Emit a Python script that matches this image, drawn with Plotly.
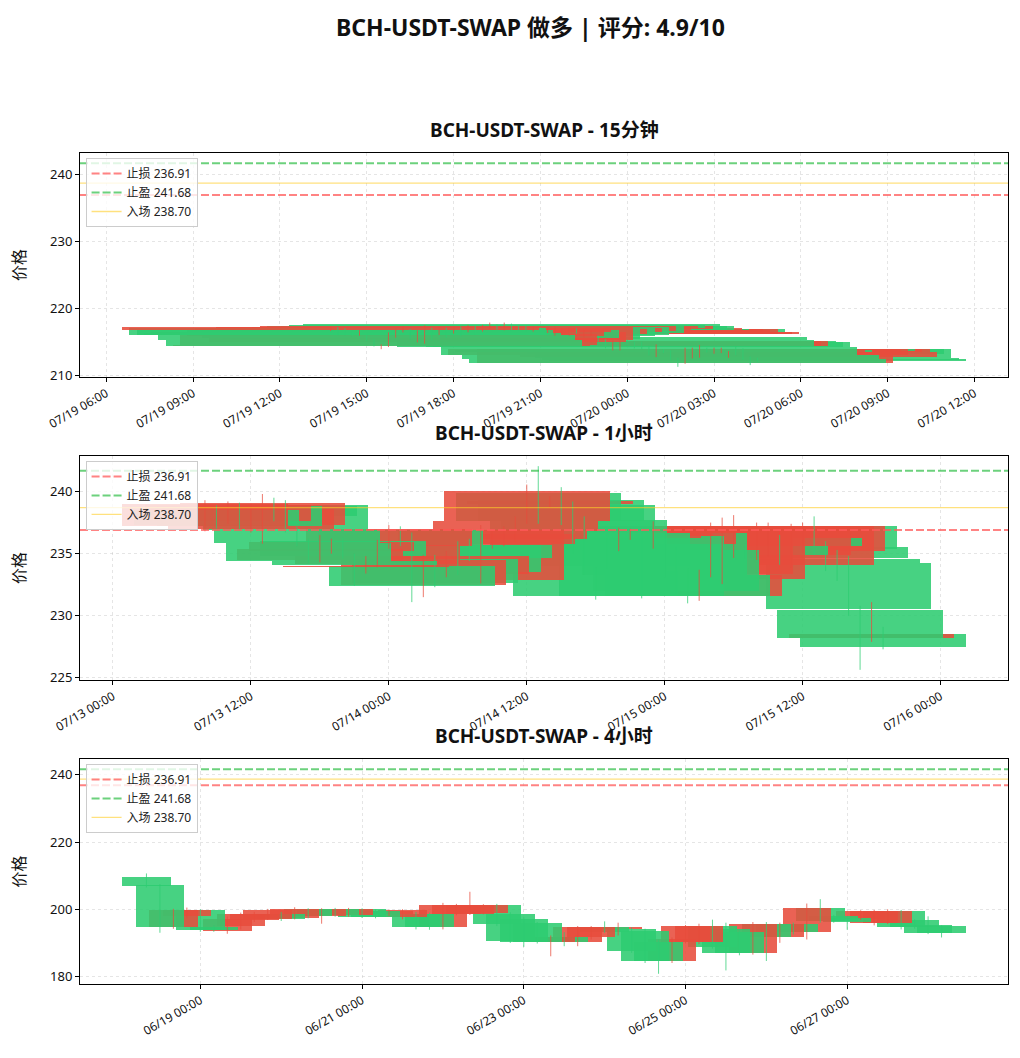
import pandas as pd
import plotly.graph_objects as go

# 入场 / 止损 / 止盈
entry_price = 238.70
stop_loss = 236.91
take_profit = 241.68

# 15分钟 K线 (newest drawn first, like the API order)
m15_start = "2025-07-19 13:45"
m15_open = [217.16, 216.00, 216.07, 215.97, 216.50, 215.22, 214.38, 214.45, 216.20, 216.70,
            217.00, 215.60, 216.50, 217.20, 215.40, 216.90, 215.80, 217.10, 216.00, 217.30,
            216.30, 217.20, 217.36, 217.00, 217.30, 216.90, 216.80, 216.70, 217.06, 216.72,
            216.90, 216.90, 216.80, 216.90, 216.40, 216.50, 216.50, 215.20, 214.23, 215.07,
            215.07, 214.80, 214.20, 214.20, 213.08, 213.98, 213.50, 212.34, 211.84, 213.98,
            213.98, 213.98, 213.63, 213.98, 213.98, 213.40, 213.20, 212.49, 212.30, 212.14]
m15_high = [217.30, 217.20, 217.00, 216.50, 216.70, 216.20, 215.40, 214.60, 216.40, 216.90,
            217.30, 216.90, 216.70, 217.46, 217.10, 217.20, 217.10, 217.30, 217.30, 217.50,
            217.40, 217.50, 217.86, 217.60, 217.86, 217.70, 217.50, 217.40, 217.20, 217.10,
            217.10, 217.20, 217.00, 217.10, 217.00, 216.70, 216.60, 215.90, 215.40, 215.20,
            215.20, 215.30, 215.00, 215.00, 214.40, 214.60, 213.90, 213.70, 212.60, 214.10,
            214.10, 214.50, 214.10, 214.10, 214.10, 213.60, 214.30, 214.00, 212.80, 212.60]
m15_low = [216.60, 215.90, 215.95, 215.80, 215.90, 215.10, 214.30, 213.88, 214.20, 215.60,
           216.40, 215.40, 214.90, 214.70, 215.20, 216.00, 215.60, 216.20, 215.80, 216.40,
           216.10, 216.50, 216.90, 216.80, 216.70, 216.70, 216.60, 216.50, 216.50, 216.50,
           216.30, 215.90, 216.00, 215.90, 216.20, 215.60, 215.90, 215.00, 214.00, 213.70,
           213.70, 214.50, 214.00, 213.90, 212.95, 212.70, 213.30, 212.20, 211.24, 211.70,
           212.50, 212.60, 213.40, 213.20, 213.30, 212.60, 213.00, 212.30, 211.50, 212.00]
m15_close = [216.72, 217.10, 216.72, 216.30, 216.10, 216.07, 215.22, 214.30, 214.50, 215.90,
             216.50, 216.80, 215.00, 215.20, 216.90, 216.20, 217.00, 216.40, 217.20, 216.60,
             217.30, 216.70, 217.06, 217.46, 216.90, 217.60, 217.40, 217.30, 216.72, 216.97,
             216.60, 216.10, 216.20, 216.10, 216.90, 216.10, 216.10, 215.70, 215.20, 214.38,
             214.38, 215.07, 214.90, 214.90, 214.23, 212.99, 213.73, 213.08, 212.34, 211.84,
             212.99, 212.99, 213.98, 213.40, 213.40, 212.74, 213.98, 213.88, 212.59, 212.44]

# 1小时 K线
h1_start = "2025-07-13 08:00"
h1_open = [239.00, 237.30, 238.90, 237.20, 238.60, 239.10, 238.00, 236.90, 235.86, 234.44,
           235.40, 235.90, 234.80, 234.06, 234.00, 235.70, 237.00, 235.70, 232.42, 234.50,
           232.60, 234.80, 233.50, 234.65, 236.90, 236.60, 236.80, 237.66, 240.08, 237.66,
           239.27, 237.66, 235.30, 233.60, 231.60, 234.00, 236.72, 236.72, 231.60, 237.20,
           233.30, 232.00, 231.60, 233.30, 237.20, 237.20, 237.20, 234.90, 237.20, 237.20,
           235.60, 237.20, 237.20, 235.40, 234.65, 234.25, 230.56, 228.20, 228.55, 227.45]
h1_high = [239.30, 238.90, 239.20, 239.10, 239.00, 239.80, 239.50, 239.30, 237.20, 236.20,
           236.50, 236.20, 236.30, 235.00, 234.80, 236.10, 237.30, 237.20, 236.70, 234.90,
           234.90, 235.20, 236.00, 236.20, 237.30, 236.90, 237.20, 238.00, 240.56, 242.04,
           239.60, 240.35, 239.20, 238.00, 233.90, 237.00, 237.10, 237.00, 236.80, 237.60,
           237.00, 235.60, 233.80, 233.70, 237.50, 237.90, 238.10, 235.80, 237.50, 237.50,
           236.50, 237.40, 237.50, 238.00, 236.00, 235.30, 234.80, 230.80, 231.10, 229.10]
h1_low = [236.80, 237.00, 237.40, 236.90, 236.70, 235.80, 237.60, 236.70, 235.60, 234.20,
          234.30, 235.00, 234.60, 232.40, 233.40, 233.90, 235.40, 235.60, 231.10, 231.50,
          232.30, 233.10, 233.30, 234.40, 232.60, 235.40, 235.60, 236.00, 237.40, 237.40,
          238.70, 237.30, 235.00, 233.30, 231.30, 233.80, 235.20, 236.10, 231.40, 235.40,
          233.10, 231.80, 231.00, 231.20, 233.10, 232.55, 234.65, 234.60, 234.50, 234.80,
          234.10, 233.90, 235.10, 234.90, 233.60, 232.80, 230.00, 225.65, 227.90, 227.30]
h1_close = [237.20, 238.50, 237.60, 238.80, 237.00, 237.30, 238.80, 238.90, 236.94, 235.86,
            234.50, 235.20, 236.00, 234.44, 233.90, 234.20, 235.60, 236.90, 233.98, 232.50,
            234.60, 233.40, 235.70, 235.70, 232.90, 235.80, 236.20, 236.80, 237.66, 239.90,
            239.00, 239.35, 238.95, 237.74, 233.60, 236.70, 236.30, 236.40, 236.45, 235.80,
            236.70, 235.30, 233.30, 231.60, 233.40, 233.00, 236.30, 235.60, 236.30, 234.90,
            236.26, 234.10, 235.24, 237.26, 235.56, 234.60, 234.25, 230.50, 228.20, 228.55]

# 4小时 K线
h4_start = "2025-06-18 08:00"
h4_open = [206.97, 194.73, 199.70, 199.70, 193.70, 193.90, 197.20, 198.50, 198.50, 199.70,
           197.20, 200.00, 198.00, 200.00, 198.20, 200.00, 197.70, 197.70, 199.50, 199.70,
           194.70, 194.70, 201.20, 201.20, 201.20, 201.20, 195.70, 190.50, 190.20, 190.20,
           191.70, 190.20, 194.70, 194.70, 193.20, 194.70, 187.60, 184.60, 184.60, 191.20,
           194.90, 194.90, 188.80, 187.00, 187.00, 195.70, 191.70, 195.70, 193.20, 200.40,
           196.40, 196.40, 196.20, 199.40, 199.40, 199.40, 194.70, 194.70, 192.90, 192.90]
h4_high = [210.65, 207.50, 200.10, 200.50, 200.00, 195.20, 197.80, 199.00, 199.20, 200.10,
           199.20, 200.60, 200.30, 200.30, 200.40, 200.40, 200.30, 199.90, 199.90, 200.00,
           199.20, 199.00, 201.90, 201.60, 205.20, 201.50, 201.60, 199.10, 197.60, 196.20,
           192.20, 193.20, 195.00, 195.00, 196.40, 196.00, 194.60, 194.20, 191.00, 191.60,
           195.30, 195.70, 196.90, 196.00, 193.60, 196.20, 196.20, 196.00, 196.00, 201.70,
           203.00, 198.30, 197.70, 199.70, 199.80, 200.00, 199.80, 197.00, 197.90, 195.20]
h4_low = [206.50, 193.00, 194.20, 197.30, 193.30, 193.30, 192.70, 194.00, 196.20, 196.80,
          196.50, 197.00, 197.30, 195.70, 197.80, 197.80, 197.40, 197.30, 198.00, 197.00,
          194.00, 193.90, 194.00, 198.20, 198.30, 198.50, 195.00, 190.00, 188.80, 189.80,
          186.00, 189.00, 189.00, 191.00, 193.00, 192.20, 187.00, 184.00, 180.80, 184.00,
          189.80, 189.60, 188.30, 181.80, 186.30, 186.50, 184.60, 190.00, 192.50, 191.00,
          196.00, 196.00, 193.90, 196.80, 195.20, 195.60, 194.00, 194.20, 192.60, 191.60]
h4_close = [209.55, 207.16, 194.73, 198.00, 199.70, 194.70, 193.50, 195.00, 196.90, 197.20,
            198.70, 197.50, 200.00, 198.00, 200.00, 198.20, 200.00, 199.50, 198.50, 197.70,
            198.70, 198.70, 194.70, 198.70, 198.70, 198.90, 201.20, 198.70, 197.20, 195.80,
            190.20, 191.70, 190.20, 191.70, 194.70, 194.00, 194.20, 193.40, 190.40, 184.60,
            190.20, 190.20, 194.90, 194.00, 193.20, 187.00, 195.70, 191.70, 195.70, 193.20,
            200.40, 197.90, 197.30, 197.20, 195.90, 195.90, 199.40, 196.70, 195.20, 194.90]

GREEN = "rgba(46,204,113,0.88)"
RED = "rgba(231,76,60,0.88)"
GREEN_WICK = "rgba(46,204,113,0.75)"
RED_WICK = "rgba(231,76,60,0.75)"
FONT = "Noto Sans, Noto Sans CJK SC, DejaVu Sans, sans-serif"
DAY_MS = 86400000

panels = [
    ("BCH-USDT-SWAP - 15分钟", m15_start, "15min", m15_open, m15_high, m15_low, m15_close, 3, 10),
    ("BCH-USDT-SWAP - 1小时", h1_start, "1h", h1_open, h1_high, h1_low, h1_close, 12, 5),
    ("BCH-USDT-SWAP - 4小时", h4_start, "4h", h4_open, h4_high, h4_low, h4_close, 48, 20),
]
domains = [(0.7304, 1.0), (0.3658, 0.6354), (0.0, 0.2708)]

fig = go.Figure()
layout_extra = {}
annotations = []

for k, (title, start, freq, o, h, l, c, tick_hours, ytick) in enumerate(panels):
    n = k + 1
    xa = "x" if n == 1 else f"x{n}"
    ya = "y" if n == 1 else f"y{n}"
    leg = "legend" if n == 1 else f"legend{n}"
    times = pd.date_range(start, periods=len(o), freq=freq)

    # bodies, newest first so the oldest candle ends up on top
    idx = list(range(len(o)))[::-1]
    fig.add_trace(go.Bar(
        x=[times[i] for i in idx],
        base=[min(o[i], c[i]) for i in idx],
        y=[max(abs(c[i] - o[i]), 0.02) for i in idx],
        width=0.6 * DAY_MS,
        marker=dict(color=[GREEN if c[i] >= o[i] else RED for i in idx], line=dict(width=0)),
        xaxis=xa, yaxis=ya, showlegend=False, hoverinfo="skip",
    ))

    # wicks
    for up, col in ((True, GREEN_WICK), (False, RED_WICK)):
        wx, wy = [], []
        for i in idx:
            if (c[i] >= o[i]) == up:
                wx += [times[i], times[i], None]
                wy += [l[i], h[i], None]
        fig.add_trace(go.Scatter(x=wx, y=wy, mode="lines", line=dict(color=col, width=1),
                                 xaxis=xa, yaxis=ya, showlegend=False, hoverinfo="skip"))

    # x range like matplotlib autoscale (bar extents + 5%)
    x0 = times[0] - pd.Timedelta(hours=7.2)
    x1 = times[-1] + pd.Timedelta(hours=7.2)
    pad = (x1 - x0) * 0.05
    xr = [x0 - pad, x1 + pad]

    lo = min(l)
    hi = max(max(h), take_profit)
    ypad = (hi - lo) * 0.05
    yr = [lo - ypad, hi + ypad]

    lines = [
        (f"止损 {stop_loss:.2f}", stop_loss, "rgba(255,90,90,0.75)", "8px,3px", 2),
        (f"止盈 {take_profit:.2f}", take_profit, "rgba(46,190,70,0.7)", "8px,3px", 2),
        (f"入场 {entry_price:.2f}", entry_price, "rgba(255,205,40,0.6)", "solid", 1.3),
    ]
    for name, val, col, dash, w in lines:
        fig.add_trace(go.Scatter(x=xr, y=[val, val], mode="lines", name=name,
                                 line=dict(color=col, dash=dash, width=w),
                                 xaxis=xa, yaxis=ya, legend=leg, hoverinfo="skip"))

    d0, d1 = domains[k]
    layout_extra[f"xaxis{'' if n == 1 else n}"] = dict(
        domain=[0, 1], anchor=ya, type="date", range=xr, automargin=False,
        tick0="2025-06-01 00:00", dtick=tick_hours * 3600000, tickformat="%m/%d %H:%M",
        tickangle=-30, tickfont=dict(size=12, color="#111"),
        showgrid=True, gridcolor="rgba(190,190,190,0.4)", griddash="dot", gridwidth=1,
        showline=True, linecolor="black", linewidth=1, mirror=True,
        ticks="outside", ticklen=4, tickcolor="black", zeroline=False,
    )
    layout_extra[f"yaxis{'' if n == 1 else n}"] = dict(
        domain=[d0, d1], anchor=xa, range=yr, dtick=ytick, automargin=False,
        title=dict(text="价格", font=dict(size=16, color="#111"), standoff=26),
        tickfont=dict(size=13, color="#111"),
        showgrid=True, gridcolor="rgba(190,190,190,0.4)", griddash="dot", gridwidth=1,
        showline=True, linecolor="black", linewidth=1, mirror=True,
        ticks="outside", ticklen=4, tickcolor="black", zeroline=False,
    )
    layout_extra[leg] = dict(
        x=0.006, y=d1 - 0.006, xanchor="left", yanchor="top",
        bgcolor="rgba(255,255,255,0.8)", bordercolor="#cccccc", borderwidth=1,
        font=dict(size=12, color="#222", family=FONT), tracegroupgap=0,
        itemwidth=30,
    )
    annotations.append(dict(
        text=f"<b>{title}</b>", x=0.5, xref="paper", xanchor="center",
        y=d1, yref="paper", yanchor="bottom", yshift=8, showarrow=False,
        font=dict(size=19, color="#111", family=FONT),
    ))

annotations.append(dict(
    text="<b>BCH-USDT-SWAP 做多 | 评分: 4.9/10</b>", x=(530 - 80) / 928, xref="paper",
    xanchor="center", showarrow=False,
    y=1.0, yref="paper", yanchor="bottom", yshift=108,
    font=dict(size=23, color="#111", family=FONT),
))

# page body has an 8px margin, so the canvas is shifted by that much
fig.update_layout(
    width=1012, height=1050,
    margin=dict(l=72, r=12, t=145, b=74),
    paper_bgcolor="white", plot_bgcolor="white",
    barmode="overlay", bargap=0,
    font=dict(family=FONT, color="#222"),
    annotations=annotations,
    **layout_extra,
)

fig.write_html("out.html")
